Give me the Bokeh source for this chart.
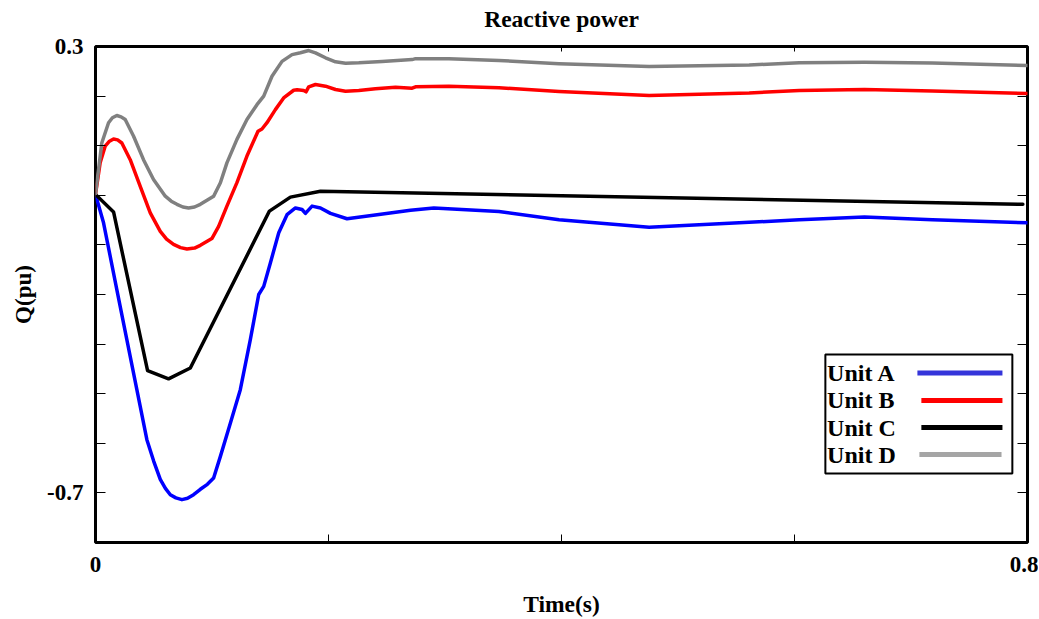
from bokeh.plotting import figure
from bokeh.models import (Range1d, FixedTicker, LinearAxis, CustomJSTickFormatter,
                          BoxAnnotation, Label, Arrow)
from bokeh.embed import file_html
from bokeh.resources import INLINE

# ---------------- data ----------------
series_names = ["Unit A", "Unit B", "Unit C", "Unit D"]
series_colors = ["#0000FF", "#FF0000", "#000000", "#808080"]
legend_colors = ["#3535DA", "#FF0000", "#000000", "#A5A5A5"]

t_unit_a = [0, 0.0069, 0.0183, 0.0269, 0.0355, 0.0441, 0.0500, 0.0556, 0.0600, 0.0642,
            0.0690, 0.0742, 0.0790, 0.0842, 0.0900, 0.0960, 0.1014, 0.1072, 0.1158, 0.1243,
            0.1329, 0.1401, 0.1444, 0.1501, 0.1573, 0.1644, 0.1716, 0.1773, 0.1802, 0.1859,
            0.1931, 0.2017, 0.2159, 0.2417, 0.2704, 0.2904, 0.3463, 0.3979, 0.4752, 0.5611,
            0.6041, 0.6600, 0.7184, 0.80]
q_unit_a = [-0.028, -0.091, -0.239, -0.350, -0.461, -0.572, -0.620, -0.660, -0.680, -0.694,
            -0.701, -0.705, -0.702, -0.694, -0.682, -0.671, -0.657, -0.609, -0.535, -0.461,
            -0.350, -0.250, -0.232, -0.180, -0.113, -0.073, -0.058, -0.0615, -0.070, -0.054,
            -0.058, -0.070, -0.082, -0.073, -0.063, -0.058, -0.066, -0.084, -0.101, -0.090,
            -0.084, -0.078, -0.084, -0.091]

t_unit_b = [0, 0.0040, 0.0083, 0.0120, 0.0155, 0.0190, 0.0226, 0.0298, 0.0384, 0.0470,
            0.0556, 0.0610, 0.0670, 0.0730, 0.0785, 0.0850, 0.0900, 0.0999, 0.1057, 0.1128,
            0.1214, 0.1300, 0.1395, 0.1429, 0.1472, 0.1544, 0.1615, 0.1701, 0.1730, 0.1787,
            0.1807, 0.1830, 0.1888, 0.1974, 0.2060, 0.2146, 0.2260, 0.2403, 0.2575, 0.2718,
            0.2747, 0.3033, 0.3463, 0.3979, 0.4752, 0.5611, 0.6041, 0.6600, 0.7184, 0.80]
q_unit_b = [-0.028, 0.042, 0.079, 0.090, 0.095, 0.093, 0.086, 0.049, -0.010, -0.069,
            -0.110, -0.127, -0.139, -0.146, -0.149, -0.147, -0.141, -0.126, -0.099, -0.054,
            -0.002, 0.057, 0.112, 0.117, 0.131, 0.160, 0.186, 0.203, 0.204, 0.2024,
            0.1995, 0.2106, 0.2157, 0.2120, 0.2046, 0.2009, 0.2024, 0.2062, 0.2097, 0.2075,
            0.2106, 0.2120, 0.2084, 0.2002, 0.1913, 0.1969, 0.2024, 0.2046, 0.2013, 0.1958]

t_unit_c = [0, 0.0155, 0.0447, 0.0627, 0.0814, 0.1493, 0.1673, 0.1931, 0.796]
q_unit_c = [-0.028, -0.067, -0.419, -0.437, -0.413, -0.065, -0.034, -0.021, -0.050]

t_unit_d = [0, 0.0026, 0.0054, 0.0112, 0.0145, 0.0183, 0.0220, 0.0255, 0.0327, 0.0412,
            0.0498, 0.0599, 0.0650, 0.0699, 0.0750, 0.0799, 0.0850, 0.0900, 0.1014, 0.1072,
            0.1128, 0.1214, 0.1300, 0.1386, 0.1444, 0.1515, 0.1601, 0.1687, 0.1759, 0.1830,
            0.1888, 0.1974, 0.2060, 0.2146, 0.2260, 0.2460, 0.2718, 0.2747, 0.3033, 0.3463,
            0.3979, 0.4752, 0.5611, 0.6041, 0.6600, 0.7184, 0.80]
q_unit_d = [-0.028, 0.027, 0.086, 0.131, 0.142, 0.147, 0.144, 0.138, 0.101, 0.049,
            0.005, -0.032, -0.043, -0.050, -0.056, -0.058, -0.056, -0.050, -0.032, -0.002,
            0.042, 0.094, 0.138, 0.171, 0.190, 0.234, 0.267, 0.282, 0.286, 0.291,
            0.286, 0.275, 0.266, 0.263, 0.264, 0.267, 0.271, 0.273, 0.273, 0.269,
            0.262, 0.2556, 0.259, 0.2639, 0.2652, 0.2634, 0.2579]

x_ticks = [0, 0.2, 0.4, 0.6, 0.8]
y_ticks = [round(0.3 - 0.11 * k, 2) for k in range(11)]

times = [t_unit_a, t_unit_b, t_unit_c, t_unit_d]
values = [q_unit_a, q_unit_b, q_unit_c, q_unit_d]

TITLE = "Reactive power"
FONT = "Liberation Serif"

p = figure(width=1038, height=622, output_backend="svg", toolbar_location=None,
           x_range=Range1d(0, 0.8), y_range=Range1d(-0.8, 0.3),
           min_border_left=95, min_border_right=11, min_border_top=46, min_border_bottom=80,
           x_axis_label="Time(s)", y_axis_label="Q(pu)")
p.grid.visible = False
p.background_fill_color = "white"
p.border_fill_color = "white"
p.outline_line_color = "black"
p.outline_line_width = 3

xfmt = CustomJSTickFormatter(code="""
if (Math.abs(tick) < 1e-9) return "0";
if (Math.abs(tick - 0.8) < 1e-9) return "0.8";
return "";""")
yfmt = CustomJSTickFormatter(code="""
if (Math.abs(tick - 0.3) < 1e-6) return "0.3";
if (Math.abs(tick + 0.69) < 1e-6) return "-0.7";
return "";""")

def style_axis(ax, tick_in, labels=True):
    ax.axis_line_color = None
    ax.major_tick_in = tick_in
    ax.major_tick_out = 0
    ax.minor_tick_in = 0
    ax.minor_tick_out = 0
    ax.major_tick_line_color = "black"
    ax.major_tick_line_width = 1
    ax.axis_label_text_font = FONT
    ax.axis_label_text_font_size = "23.5px"
    ax.axis_label_text_font_style = "bold"
    ax.axis_label_text_color = "black"
    if labels:
        ax.major_label_text_font = FONT
        ax.major_label_text_font_size = "23px"
        ax.major_label_text_font_style = "bold"
        ax.major_label_text_color = "black"
    else:
        ax.major_label_text_font_size = "0px"
        ax.major_label_standoff = 0
        ax.axis_label_standoff = 0

xa = p.xaxis[0]
xa.ticker = FixedTicker(ticks=x_ticks)
xa.formatter = xfmt
style_axis(xa, 8)
xa.major_label_standoff = 14
xa.axis_label_standoff = 16

ya = p.yaxis[0]
ya.ticker = FixedTicker(ticks=y_ticks)
ya.formatter = yfmt
style_axis(ya, 10)
ya.major_label_standoff = 12
ya.axis_label_standoff = 8
ya.axis_label_text_font_size = "23px"

# top axis: mirrored inward ticks, carries the chart title as its label
top_axis = LinearAxis(ticker=FixedTicker(ticks=x_ticks), formatter=xfmt)
style_axis(top_axis, 5, labels=False)
top_axis.axis_label = TITLE
top_axis.axis_label_standoff = 15
p.add_layout(top_axis, "above")
right_axis = LinearAxis(ticker=FixedTicker(ticks=y_ticks), formatter=yfmt)
style_axis(right_axis, 10, labels=False)
p.add_layout(right_axis, "right")

for t, q, c in zip(times, values, series_colors):
    p.line(t, q, line_color=c, line_width=3.5, line_join="round", line_cap="round")

# ---------------- legend (label left, sample line right) ----------------
p.add_layout(BoxAnnotation(left=0.6265, right=0.7870, top=-0.3831, bottom=-0.647,
                           fill_color="white", fill_alpha=1.0,
                           line_color="black", line_width=2, line_alpha=1.0))
legend_rows_y = [-0.424, -0.485, -0.545, -0.605]
legend_line_x0 = [0.7055, 0.7089, 0.7089, 0.7072]
legend_line_x1 = [0.7785, 0.7785, 0.7785, 0.7777]
for name, col, yy, x0, x1 in zip(series_names, legend_colors, legend_rows_y,
                                 legend_line_x0, legend_line_x1):
    p.add_layout(Label(x=0.6280, y=yy, text=name, text_font=FONT, text_font_size="24px",
                       text_font_style="bold", text_color="black", text_baseline="middle",
                       text_align="left"))
    p.add_layout(Arrow(x_start=x0, y_start=yy, x_end=x1, y_end=yy, start=None, end=None,
                       line_color=col, line_width=5))

open("out.html", "w").write(file_html(p, INLINE))
